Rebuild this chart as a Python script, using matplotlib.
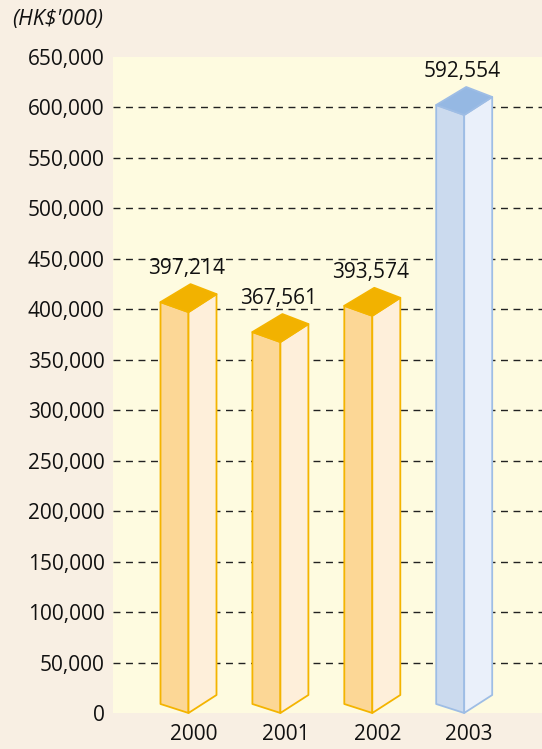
import numpy as np
import matplotlib.pyplot as plt
from matplotlib.patches import Polygon

years = ["2000", "2001", "2002", "2003"]
values = [397214, 367561, 393574, 592554]
yticks = np.arange(0, 650001, 50000)

orange = dict(left="#FCD796", right="#FEEFDA", top="#F2B200", edge="#F4B400")
blue = dict(left="#CBDAEE", right="#EAF0FA", top="#95B8E3", edge="#9EBDE5")
styles = [orange, orange, orange, blue]

W, H = 542, 749
fig = plt.figure(figsize=(W / 100, H / 100), dpi=100)
fig.patch.set_facecolor("#F8EFE3")

x0, x1, y0, y1 = 113, 542, 57, 713
ax = fig.add_axes([x0 / W, (H - y1) / H, (x1 - x0) / W, (y1 - y0) / H])
ax.set_facecolor("#FEFBE0")

step = 91.9  # px between bars
first = 188.5
ax.set_xlim((x0 - first) / step, (x1 - first) / step)
ax.set_ylim(0, 650000)

# pixel -> data scale factors
px_x = 1 / step
px_y = 650000 / (y1 - y0)

fam = ["Open Sans", "DejaVu Sans"]
fs = 15
tc = "#111111"

for y in yticks[1:-1]:
    ax.axhline(y, color="#222222", lw=1, ls=(0, (5, 4)), zorder=1)

for i, (v, st) in enumerate(zip(values, styles)):
    dx = 28 * px_x
    dyl, dyr = 10 * px_y, 18 * px_y
    left = [(i - dx, 9 * px_y), (i, 0), (i, v), (i - dx, v + dyl)]
    right = [(i, 0), (i + dx, dyr), (i + dx, v + dyr), (i, v)]
    top = [(i - dx, v + dyl), (i, v), (i + dx, v + dyr), (i + 2 * px_x, v + 28 * px_y)]
    for pts, c in [(left, st["left"]), (right, st["right"]), (top, st["top"])]:
        ax.add_patch(Polygon(pts, closed=True, facecolor=c, edgecolor=st["edge"],
                             lw=1.3, joinstyle="round", zorder=3, clip_on=False))
    ax.text(i - 2 * px_x, v + 33 * px_y, f"{v:,}", ha="center", va="bottom",
            fontsize=fs, family=fam, color=tc, zorder=4)

for i, yr in enumerate(years):
    ax.text(i + 5 * px_x, -21 * px_y, yr, ha="center", va="center",
            fontsize=fs, family=fam, color=tc, clip_on=False)

ax.set_yticks(yticks)
ax.set_yticklabels([f"{t:,}" for t in yticks], family=fam, fontsize=fs, color=tc)
ax.tick_params(axis="y", length=0, pad=6)
ax.set_xticks([])
for s in ax.spines.values():
    s.set_visible(False)

fig.text(12 / W, 1 - 20 / H, "(HK$'000)", ha="left", va="center", style="italic",
         fontsize=fs + 0.5, family=fam, color=tc)

fig.savefig("out.png", dpi=100, facecolor=fig.get_facecolor())
